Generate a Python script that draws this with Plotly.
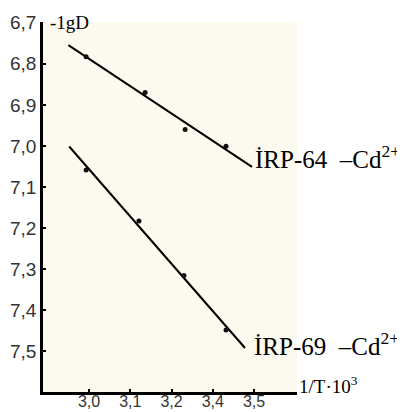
import numpy as np
import plotly.graph_objects as go

# Data
x_irp64 = [2.993, 3.136, 3.233, 3.332]
y_irp64 = [6.783, 6.870, 6.960, 7.001]
x_irp69 = [2.993, 3.121, 3.230, 3.332]
y_irp69 = [7.059, 7.183, 7.316, 7.449]

line64_x = [2.950, 3.395]
line69_x = [2.952, 3.378]

x_tickvals = [3.0, 3.1, 3.2, 3.3, 3.4]
x_ticktext = ["3,0", "3,1", "3,2", "3,4", "3,5"]
y_tickvals = [6.7, 6.8, 6.9, 7.0, 7.1, 7.2, 7.3, 7.4, 7.5]
y_ticktext = ["6,7", "6,8", "6,9", "7,0", "7,1", "7,2", "7,3", "7,4", "7,5"]

label64 = "İRP-64\u00a0\u00a0–Cd<sup>2+</sup>"
label69 = "İRP-69\u00a0\u00a0–Cd<sup>2+</sup>"
y_title = "-1gD"
x_title = "1/T·10<sup>3</sup>"

fig = go.Figure()

for xs, ys, lx in [(x_irp64, y_irp64, line64_x), (x_irp69, y_irp69, line69_x)]:
    k, b = np.polyfit(xs, ys, 1)
    lx = np.array(lx)
    fig.add_trace(go.Scatter(x=lx, y=k * lx + b, mode="lines",
                             line=dict(color="black", width=2), hoverinfo="skip"))
    fig.add_trace(go.Scatter(x=xs, y=ys, mode="markers",
                             marker=dict(color="#111111", size=5)))

serif = "Liberation Serif"
sans = "Liberation Sans"

fig.update_layout(
    width=397, height=404,
    margin=dict(l=35, r=108, t=14, b=20),
    paper_bgcolor="white",
    plot_bgcolor="#fcfaee",
    showlegend=False,
    xaxis=dict(range=[2.8885, 3.504], tickvals=x_tickvals, ticktext=x_ticktext,
               automargin=False, ticklabelstandoff=-7,
               showgrid=False, zeroline=False, showline=True, linecolor="black",
               linewidth=2.5, ticks="inside", ticklen=3, tickwidth=2, tickcolor="black",
               tickfont=dict(family=sans, size=16, color="#333333")),
    yaxis=dict(range=[7.6, 6.698], tickvals=y_tickvals, ticktext=y_ticktext,
               automargin=False,
               showgrid=False, zeroline=False, showline=True, linecolor="black",
               linewidth=2.5, ticks="inside", ticklen=3, tickwidth=2, tickcolor="black",
               tickfont=dict(family=sans, size=19, color="#333333")),
    annotations=[
        dict(text=label64, xref="paper", yref="paper", x=0.827, y=0.635,
             xanchor="left", yanchor="middle", showarrow=False,
             font=dict(family=serif, size=25, color="black")),
        dict(text=label69, xref="paper", yref="paper", x=0.823, y=0.130,
             xanchor="left", yanchor="middle", showarrow=False,
             font=dict(family=serif, size=25, color="black")),
        dict(text=y_title, xref="paper", yref="paper", x=0.02, y=1.0,
             xanchor="left", yanchor="middle", showarrow=False,
             font=dict(family=serif, size=19, color="black")),
        dict(text=x_title, xref="paper", yref="paper", x=1.0, y=0.02,
             xanchor="left", yanchor="middle", showarrow=False,
             font=dict(family=serif, size=19, color="black")),
    ],
)

fig.write_html("out.html")
